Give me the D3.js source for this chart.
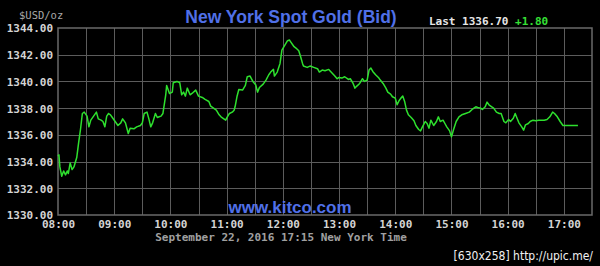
<!DOCTYPE html>
<html>
<head>
<meta charset="utf-8">
<script src="https://cdn.jsdelivr.net/npm/d3@7"></script>
<style>
  html, body { margin: 0; padding: 0; background: #000; }
  svg { display: block; }
</style>
</head>
<body>
<svg id="chart" width="600" height="266"></svg>
<script>
// ---- data ----
const times = [
  "08:00","08:01","08:02","08:04","08:06","08:08","08:10","08:11","08:13","08:15","08:17","08:20","08:22","08:24","08:26","08:28","08:31","08:33","08:35","08:38","08:41","08:43","08:46","08:48","08:50","08:52","08:54","08:56","08:58",
  "09:01","09:04","09:07","09:09","09:12","09:15","09:17","09:21","09:24","09:28","09:30","09:32","09:35","09:37","09:39","09:41","09:44","09:46","09:48","09:50","09:52","09:55","09:56","09:59",
  "10:02","10:03","10:07","10:10","10:12","10:14","10:16","10:18","10:21","10:23","10:27","10:30","10:34","10:37","10:41","10:43","10:46","10:49","10:52","10:54","10:57","10:59",
  "11:00","11:03","11:06","11:08","11:09","11:11","11:13","11:17","11:20","11:22","11:25","11:28","11:31","11:33","11:35","11:39","11:42","11:45","11:47","11:50","11:51","11:54","11:57","11:59",
  "12:02","12:05","12:07","12:08","12:12","12:14","12:17","12:19","12:21","12:22","12:26","12:29","12:33","12:37","12:39","12:42","12:45","12:49","12:53","12:55","12:58",
  "13:00","13:03","13:06","13:10","13:12","13:15","13:17","13:19","13:22","13:25","13:27","13:30","13:32","13:34","13:36","13:39","13:42","13:44","13:47","13:50","13:52","13:55","13:57",
  "14:00","14:02","14:04","14:06","14:08","14:10","14:12","14:14","14:17","14:20","14:22","14:25","14:27","14:29","14:32","14:34","14:36","14:38","14:41","14:44","14:46","14:48","14:51","14:53","14:55","14:58",
  "15:00","15:02","15:05","15:08","15:11","15:15","15:19","15:22","15:26","15:28","15:31","15:33","15:36","15:38","15:40","15:43","15:45","15:48","15:51","15:53","15:56","15:58",
  "16:01","16:03","16:06","16:08","16:10","16:12","16:15","16:17","16:19","16:22","16:24","16:27","16:30","16:33","16:39","16:42","16:45","16:48","16:50","16:53","16:56","16:59",
  "17:04","17:15"
];
const prices = [
  1334.4,1334.5,1333.6,1332.9,1333.3,1333.0,1333.3,1333.1,1333.9,1333.4,1333.6,1334.3,1335.4,1336.4,1337.6,1337.7,1337.4,1336.6,1337.1,1337.4,1337.7,1337.2,1337.1,1337.0,1336.6,1337.4,1337.6,1337.5,1337.3,
  1337.0,1336.7,1336.9,1337.2,1336.9,1336.1,1336.5,1336.45,1336.6,1336.7,1336.9,1337.6,1337.7,1337.2,1336.6,1336.9,1337.6,1337.3,1337.35,1337.4,1337.6,1339.0,1339.7,1339.1,
  1339.2,1339.9,1340.0,1339.9,1339.0,1339.2,1338.9,1339.5,1339.0,1339.1,1339.35,1338.9,1338.8,1338.65,1338.5,1338.15,1338.0,1337.85,1337.5,1337.35,1337.2,1337.1,
  1337.25,1337.6,1337.7,1337.85,1338.1,1338.85,1339.4,1339.35,1339.7,1340.35,1340.4,1340.0,1339.75,1339.2,1339.55,1339.8,1340.1,1340.5,1340.7,1340.9,1340.4,1340.7,1341.35,1342.35,
  1342.7,1343.05,1343.1,1343.0,1342.6,1342.5,1342.3,1341.85,1341.35,1341.15,1341.05,1341.15,1341.05,1340.95,1340.7,1340.85,1340.8,1340.9,1340.6,1340.45,1340.2,
  1340.3,1340.25,1340.35,1340.15,1340.2,1339.85,1339.5,1339.65,1339.85,1340.2,1340.0,1340.1,1340.85,1341.0,1340.75,1340.5,1340.3,1340.1,1339.85,1339.5,1339.2,1339.05,1338.85,
  1338.75,1338.25,1338.55,1338.75,1338.9,1338.5,1337.85,1337.5,1337.3,1337.05,1336.7,1336.4,1336.3,1336.6,1337.0,1336.85,1336.5,1337.1,1336.7,1337.0,1337.35,1337.0,1337.1,1336.85,1336.6,1336.3,
  1335.85,1336.35,1337.0,1337.35,1337.5,1337.6,1337.7,1337.9,1338.1,1338.05,1338.0,1337.9,1338.1,1338.45,1338.25,1338.1,1338.0,1337.7,1337.6,1337.6,1337.0,1336.9,
  1337.15,1337.0,1337.25,1337.6,1337.25,1336.9,1336.6,1336.35,1336.75,1336.85,1337.0,1337.1,1337.05,1337.1,1337.1,1337.15,1337.35,1337.7,1337.6,1337.35,1337.0,1336.7,
  1336.7,1336.7
];
const yTicks = [1330, 1332, 1334, 1336, 1338, 1340, 1342, 1344];
const xTickLabels = ["08:00","09:00","10:00","11:00","12:00","13:00","14:00","15:00","16:00","17:00"];
const xDomain = ["08:00", "17:30"];
const titleText = "New York Spot Gold (Bid)";
const unitText = "$USD/oz";
const lastText = "Last 1336.70";
const changeText = "+1.80";
const siteText = "www.kitco.com";
const dateText = "September 22, 2016 17:15 New York Time";
const stampText = "[630x258] http://upic.me/";

// ---- drawing ----
const parse = d3.timeParse("%Y-%m-%d %H:%M");
const toDate = t => parse("2016-09-22 " + t);
const data = times.map((t, i) => ({ t: toDate(t), v: prices[i] }));

const svg = d3.select("#chart");
const L = 58, R = 592, T = 28, B = 215;

const x = d3.scaleTime().domain(xDomain.map(toDate)).range([L, R]);
const y = d3.scaleLinear().domain([1330, 1344]).range([B, T]);

svg.append("rect").attr("width", 600).attr("height", 266).attr("fill", "#000");

const mono = "'DejaVu Sans Mono', 'Liberation Mono', monospace";
const sans = "'Liberation Sans', Arial, sans-serif";
const gridCol = "#5c5c5c";

// vertical grid every 30 minutes
const vTicks = d3.timeMinute.every(30).range(toDate("08:30"), toDate("17:30"));
svg.append("g")
  .attr("transform", `translate(0,${B})`)
  .call(d3.axisBottom(x).tickValues(vTicks).tickSize(-(B - T)).tickFormat(""))
  .call(g => g.select(".domain").remove())
  .call(g => g.selectAll("line").attr("stroke", gridCol).attr("stroke-width", 1).attr("shape-rendering", "crispEdges"));

// horizontal grid
svg.append("g")
  .attr("transform", `translate(${L},0)`)
  .call(d3.axisLeft(y).tickValues(yTicks.slice(1, -1)).tickSize(-(R - L)).tickFormat(""))
  .call(g => g.select(".domain").remove())
  .call(g => g.selectAll("line").attr("stroke", gridCol).attr("stroke-width", 1).attr("shape-rendering", "crispEdges"));

// frame
svg.append("rect")
  .attr("x", L).attr("y", T).attr("width", R - L).attr("height", B - T)
  .attr("fill", "none").attr("stroke", "#6a6a6a").attr("stroke-width", 1.5);

// y axis labels
svg.append("g")
  .attr("transform", `translate(${L},0)`)
  .call(d3.axisLeft(y).tickValues(yTicks).tickSize(0).tickPadding(5).tickFormat(d3.format(".2f")))
  .call(g => g.select(".domain").remove())
  .call(g => g.selectAll("text")
    .attr("fill", "#d4d4d4").attr("font-family", mono).attr("font-weight", "bold").attr("font-size", 11)
    .attr("dy", "0.35em"));

// x axis labels
svg.append("g")
  .attr("transform", `translate(0,${B})`)
  .call(d3.axisBottom(x).tickValues(xTickLabels.map(toDate)).tickSize(0).tickPadding(5).tickFormat(d3.timeFormat("%H:%M")))
  .call(g => g.select(".domain").remove())
  .call(g => g.selectAll("text")
    .attr("fill", "#d4d4d4").attr("font-family", mono).attr("font-weight", "bold").attr("font-size", 11));

// price line
svg.append("path")
  .datum(data)
  .attr("fill", "none")
  .attr("stroke", "#2ee02e")
  .attr("stroke-width", 1.5)
  .attr("stroke-linejoin", "round")
  .attr("d", d3.line().x(d => x(d.t)).y(d => y(d.v)));

// texts
svg.append("text").attr("x", 19).attr("y", 19)
  .attr("fill", "#a8a8a8").attr("font-family", mono).attr("font-size", 10.5)
  .text(unitText);

svg.append("text").attr("x", 291).attr("y", 22.5).attr("text-anchor", "middle")
  .attr("fill", "#5070e8").attr("font-family", sans).attr("font-weight", "bold").attr("font-size", 17.5)
  .text(titleText);

const last = svg.append("text").attr("x", 429).attr("y", 25)
  .attr("font-family", mono).attr("font-weight", "bold").attr("font-size", 11);
last.append("tspan").attr("fill", "#e6e6e6").text(lastText + " ");
last.append("tspan").attr("fill", "#35e035").text(changeText);

svg.append("text").attr("x", 290).attr("y", 213).attr("text-anchor", "middle")
  .attr("fill", "#5070e8").attr("font-family", sans).attr("font-weight", "bold").attr("font-size", 17)
  .text(siteText);

svg.append("text").attr("x", 281).attr("y", 241).attr("text-anchor", "middle")
  .attr("fill", "#a0a0a0").attr("font-family", mono).attr("font-weight", "bold").attr("font-size", 11)
  .text(dateText);

svg.append("text").attr("x", 593).attr("y", 259.5).attr("text-anchor", "end")
  .attr("fill", "#f0f0f0").attr("font-family", "'DejaVu Sans Condensed', 'DejaVu Sans', sans-serif").attr("font-size", 12)
  .text(stampText);
</script>
</body>
</html>
